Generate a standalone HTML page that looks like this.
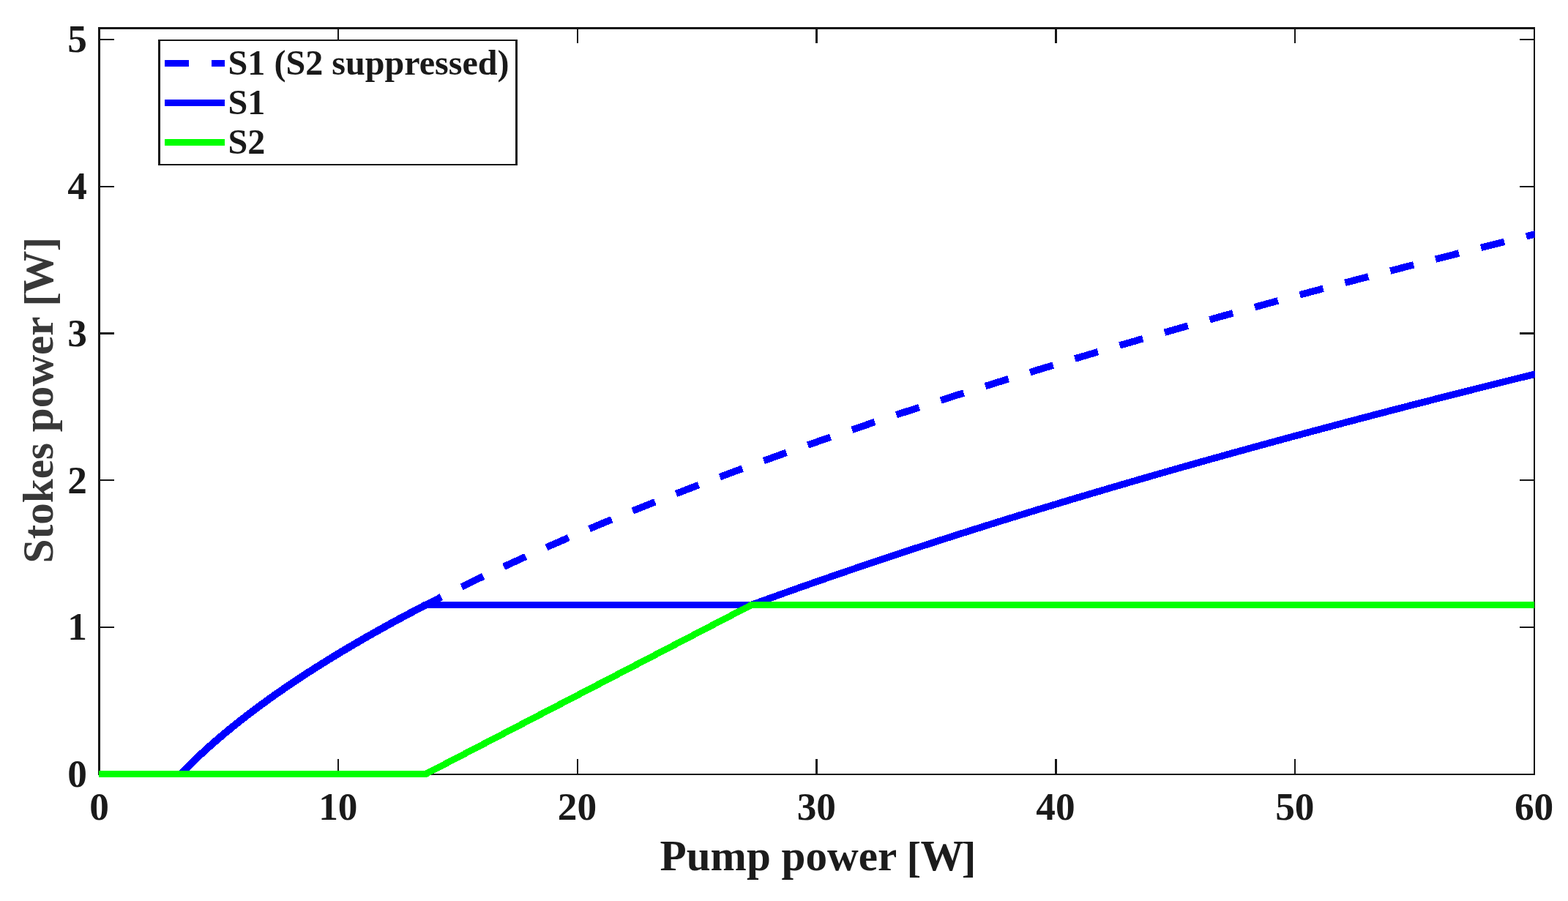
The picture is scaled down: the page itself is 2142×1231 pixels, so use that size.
<!DOCTYPE html>
<html><head><meta charset="utf-8"><title>Stokes power vs pump power</title>
<style>
html,body{margin:0;padding:0;background:#fff;}
body{width:2142px;height:1231px;overflow:hidden;}
svg{display:block;}
text{font-family:"Liberation Serif",serif;font-weight:bold;}
.tick{font-size:53.3px;fill:#1a1a1a;}
.lab{font-size:59.2px;fill:#1c1c1c;}
.ylab{font-size:59.2px;fill:#383838;}
.leg{font-size:48.1px;fill:#1a1a1a;}
</style></head><body>
<svg width="2142" height="1231" viewBox="0 0 2142 1231">
<rect width="2142" height="1231" fill="#fff"/>
<!-- axes box -->
<g fill="#161616" shape-rendering="crispEdges">
<rect x="134" y="37" width="3" height="1022"/>
<rect x="134" y="37" width="1963" height="3"/>
<rect x="2095" y="37" width="2" height="1022"/>
<rect x="134" y="1057" width="1963" height="2"/>
<!-- x ticks -->
<rect x="461" y="1037" width="2" height="20"/><rect x="461" y="40" width="2" height="19"/>
<rect x="788" y="1037" width="2" height="20"/><rect x="788" y="40" width="2" height="19"/>
<rect x="1114" y="1037" width="3" height="20"/><rect x="1114" y="40" width="3" height="19"/>
<rect x="1441" y="1037" width="3" height="20"/><rect x="1441" y="40" width="3" height="19"/>
<rect x="1768" y="1037" width="2" height="20"/><rect x="1768" y="40" width="2" height="19"/>
<!-- y ticks -->
<rect x="137" y="856" width="19" height="2"/><rect x="2076" y="856" width="19" height="2"/>
<rect x="137" y="655" width="19" height="2"/><rect x="2076" y="655" width="19" height="2"/>
<rect x="137" y="454" width="19" height="3"/><rect x="2076" y="454" width="19" height="3"/>
<rect x="137" y="254" width="19" height="2"/><rect x="2076" y="254" width="19" height="2"/>
<rect x="137" y="53" width="19" height="2"/><rect x="2076" y="53" width="19" height="2"/>
</g>
<!-- data curves -->
<clipPath id="plotclip"><rect x="134" y="30" width="1962.6" height="1040"/></clipPath>
<g fill="none" stroke-linejoin="round" stroke-linecap="butt" stroke-width="9" shape-rendering="crispEdges" clip-path="url(#plotclip)">
<path d="M573.62,830.64 L579.51,827.57 L585.39,824.53 L591.28,821.51 L597.17,818.50 L603.05,815.52 L608.94,812.55 L614.83,809.60 L620.71,806.67 L626.60,803.76 L632.49,800.87 L638.37,797.99 L644.26,795.13 L650.15,792.28 L656.03,789.46 L661.92,786.64 L667.81,783.85 L673.69,781.07 L679.58,778.30 L685.47,775.55 L691.35,772.81 L697.24,770.09 L703.13,767.38 L709.01,764.69 L714.90,762.01 L720.79,759.34 L726.67,756.69 L732.56,754.05 L738.45,751.43 L744.33,748.81 L750.22,746.21 L756.11,743.62 L761.99,741.04 L767.88,738.48 L773.77,735.93 L779.65,733.39 L785.54,730.86 L791.42,728.34 L797.31,725.83 L803.20,723.34 L809.08,720.85 L814.97,718.38 L820.86,715.91 L826.74,713.46 L832.63,711.02 L838.52,708.59 L844.40,706.17 L850.29,703.75 L856.18,701.35 L862.06,698.96 L867.95,696.58 L873.84,694.21 L879.72,691.84 L885.61,689.49 L891.50,687.14 L897.38,684.81 L903.27,682.48 L909.16,680.16 L915.04,677.85 L920.93,675.55 L926.82,673.26 L932.70,670.98 L938.59,668.70 L944.48,666.44 L950.36,664.18 L956.25,661.93 L962.14,659.69 L968.02,657.45 L973.91,655.23 L979.80,653.01 L985.68,650.80 L991.57,648.60 L997.46,646.40 L1003.34,644.21 L1009.23,642.03 L1015.12,639.86 L1021.00,637.69 L1026.89,635.53 L1032.78,633.38 L1038.66,631.24 L1044.55,629.10 L1050.44,626.97 L1056.32,624.85 L1062.21,622.73 L1068.10,620.62 L1073.98,618.51 L1079.87,616.42 L1085.75,614.33 L1091.64,612.24 L1097.53,610.16 L1103.41,608.09 L1109.30,606.03 L1115.19,603.97 L1121.07,601.92 L1126.96,599.87 L1132.85,597.83 L1138.73,595.79 L1144.62,593.77 L1150.51,591.74 L1156.39,589.73 L1162.28,587.72 L1168.17,585.71 L1174.05,583.71 L1179.94,581.72 L1185.83,579.73 L1191.71,577.75 L1197.60,575.77 L1203.49,573.80 L1209.37,571.83 L1215.26,569.87 L1221.15,567.91 L1227.03,565.96 L1232.92,564.02 L1238.81,562.08 L1244.69,560.14 L1250.58,558.21 L1256.47,556.29 L1262.35,554.37 L1268.24,552.46 L1274.13,550.55 L1280.01,548.64 L1285.90,546.74 L1291.79,544.85 L1297.67,542.96 L1303.56,541.07 L1309.45,539.19 L1315.33,537.32 L1321.22,535.44 L1327.11,533.58 L1332.99,531.72 L1338.88,529.86 L1344.77,528.01 L1350.65,526.16 L1356.54,524.31 L1362.43,522.48 L1368.31,520.64 L1374.20,518.81 L1380.08,516.98 L1385.97,515.16 L1391.86,513.34 L1397.74,511.53 L1403.63,509.72 L1409.52,507.92 L1415.40,506.12 L1421.29,504.32 L1427.18,502.53 L1433.06,500.74 L1438.95,498.95 L1444.84,497.17 L1450.72,495.40 L1456.61,493.62 L1462.50,491.86 L1468.38,490.09 L1474.27,488.33 L1480.16,486.57 L1486.04,484.82 L1491.93,483.07 L1497.82,481.33 L1503.70,479.59 L1509.59,477.85 L1515.48,476.11 L1521.36,474.38 L1527.25,472.66 L1533.14,470.93 L1539.02,469.21 L1544.91,467.50 L1550.80,465.79 L1556.68,464.08 L1562.57,462.37 L1568.46,460.67 L1574.34,458.97 L1580.23,457.28 L1586.12,455.59 L1592.00,453.90 L1597.89,452.21 L1603.78,450.53 L1609.66,448.86 L1615.55,447.18 L1621.44,445.51 L1627.32,443.84 L1633.21,442.18 L1639.10,440.52 L1644.98,438.86 L1650.87,437.20 L1656.76,435.55 L1662.64,433.90 L1668.53,432.26 L1674.41,430.62 L1680.30,428.98 L1686.19,427.34 L1692.07,425.71 L1697.96,424.08 L1703.85,422.45 L1709.73,420.83 L1715.62,419.21 L1721.51,417.59 L1727.39,415.98 L1733.28,414.37 L1739.17,412.76 L1745.05,411.15 L1750.94,409.55 L1756.83,407.95 L1762.71,406.35 L1768.60,404.76 L1774.49,403.17 L1780.37,401.58 L1786.26,400.00 L1792.15,398.41 L1798.03,396.83 L1803.92,395.26 L1809.81,393.68 L1815.69,392.11 L1821.58,390.54 L1827.47,388.98 L1833.35,387.41 L1839.24,385.85 L1845.13,384.30 L1851.01,382.74 L1856.90,381.19 L1862.79,379.64 L1868.67,378.09 L1874.56,376.55 L1880.45,375.01 L1886.33,373.47 L1892.22,371.93 L1898.11,370.40 L1903.99,368.86 L1909.88,367.34 L1915.77,365.81 L1921.65,364.29 L1927.54,362.76 L1933.43,361.25 L1939.31,359.73 L1945.20,358.22 L1951.09,356.70 L1956.97,355.19 L1962.86,353.69 L1968.74,352.18 L1974.63,350.68 L1980.52,349.18 L1986.40,347.69 L1992.29,346.19 L1998.18,344.70 L2004.06,343.21 L2009.95,341.72 L2015.84,340.24 L2021.72,338.75 L2027.61,337.27 L2033.50,335.79 L2039.38,334.32 L2045.27,332.85 L2051.16,331.37 L2057.04,329.90 L2062.93,328.44 L2068.82,326.97 L2074.70,325.51 L2080.59,324.05 L2086.48,322.59 L2092.36,321.14 L2098.25,319.68" stroke="#0000ff" stroke-width="9.5" stroke-dasharray="33.00 30.91"/>
<path d="M246.80,1057.50 L250.56,1053.64 L254.32,1049.84 L258.08,1046.10 L261.85,1042.42 L265.61,1038.79 L269.37,1035.21 L273.13,1031.69 L276.89,1028.21 L280.65,1024.78 L284.42,1021.39 L288.18,1018.04 L291.94,1014.74 L295.70,1011.47 L299.46,1008.24 L303.22,1005.05 L306.98,1001.90 L310.75,998.77 L314.51,995.69 L318.27,992.63 L322.03,989.61 L325.79,986.61 L329.55,983.65 L333.32,980.71 L337.08,977.80 L340.84,974.92 L344.60,972.07 L348.36,969.24 L352.12,966.43 L355.89,963.65 L359.65,960.90 L363.41,958.16 L367.17,955.45 L370.93,952.76 L374.69,950.09 L378.45,947.45 L382.22,944.82 L385.98,942.21 L389.74,939.63 L393.50,937.06 L397.26,934.51 L401.02,931.98 L404.79,929.46 L408.55,926.97 L412.31,924.49 L416.07,922.02 L419.83,919.58 L423.59,917.15 L427.35,914.73 L431.12,912.34 L434.88,909.95 L438.64,907.58 L442.40,905.23 L446.16,902.89 L449.92,900.57 L453.69,898.26 L457.45,895.96 L461.21,893.67 L464.97,891.40 L468.73,889.14 L472.49,886.90 L476.26,884.66 L480.02,882.44 L483.78,880.24 L487.54,878.04 L491.30,875.85 L495.06,873.68 L498.82,871.52 L502.59,869.37 L506.35,867.23 L510.11,865.10 L513.87,862.98 L517.63,860.87 L521.39,858.77 L525.16,856.68 L528.92,854.61 L532.68,852.54 L536.44,850.48 L540.20,848.43 L543.96,846.39 L547.72,844.36 L551.49,842.34 L555.25,840.33 L559.01,838.33 L562.77,836.34 L566.53,834.35 L570.29,832.38 L574.06,830.41 L577.82,828.45 L581.58,826.50 L1026.50,826.50 L1034.21,823.68 L1041.92,820.88 L1049.63,818.09 L1057.34,815.31 L1065.05,812.54 L1072.76,809.79 L1080.47,807.04 L1088.18,804.31 L1095.89,801.59 L1103.60,798.87 L1111.31,796.17 L1119.03,793.48 L1126.74,790.80 L1134.45,788.13 L1142.16,785.47 L1149.87,782.82 L1157.58,780.19 L1165.29,777.56 L1173.00,774.94 L1180.71,772.33 L1188.42,769.73 L1196.13,767.14 L1203.84,764.56 L1211.55,761.98 L1219.26,759.42 L1226.97,756.87 L1234.68,754.32 L1242.39,751.79 L1250.10,749.26 L1257.81,746.74 L1265.52,744.23 L1273.23,741.73 L1280.94,739.24 L1288.65,736.76 L1296.37,734.28 L1304.08,731.81 L1311.79,729.35 L1319.50,726.90 L1327.21,724.46 L1334.92,722.02 L1342.63,719.60 L1350.34,717.18 L1358.05,714.76 L1365.76,712.36 L1373.47,709.96 L1381.18,707.57 L1388.89,705.19 L1396.60,702.81 L1404.31,700.45 L1412.02,698.09 L1419.73,695.73 L1427.44,693.39 L1435.15,691.05 L1442.86,688.71 L1450.57,686.39 L1458.28,684.07 L1465.99,681.76 L1473.71,679.45 L1481.42,677.15 L1489.13,674.86 L1496.84,672.58 L1504.55,670.30 L1512.26,668.02 L1519.97,665.76 L1527.68,663.50 L1535.39,661.24 L1543.10,659.00 L1550.81,656.75 L1558.52,654.52 L1566.23,652.29 L1573.94,650.07 L1581.65,647.85 L1589.36,645.64 L1597.07,643.43 L1604.78,641.23 L1612.49,639.04 L1620.20,636.85 L1627.91,634.67 L1635.62,632.49 L1643.33,630.32 L1651.04,628.15 L1658.76,625.99 L1666.47,623.84 L1674.18,621.69 L1681.89,619.54 L1689.60,617.40 L1697.31,615.27 L1705.02,613.14 L1712.73,611.02 L1720.44,608.90 L1728.15,606.79 L1735.86,604.68 L1743.57,602.58 L1751.28,600.48 L1758.99,598.39 L1766.70,596.30 L1774.41,594.22 L1782.12,592.14 L1789.83,590.07 L1797.54,588.00 L1805.25,585.94 L1812.96,583.88 L1820.67,581.82 L1828.38,579.77 L1836.10,577.73 L1843.81,575.69 L1851.52,573.65 L1859.23,571.62 L1866.94,569.60 L1874.65,567.58 L1882.36,565.56 L1890.07,563.55 L1897.78,561.54 L1905.49,559.53 L1913.20,557.53 L1920.91,555.54 L1928.62,553.55 L1936.33,551.56 L1944.04,549.58 L1951.75,547.60 L1959.46,545.63 L1967.17,543.66 L1974.88,541.69 L1982.59,539.73 L1990.30,537.77 L1998.01,535.82 L2005.72,533.87 L2013.44,531.92 L2021.15,529.98 L2028.86,528.05 L2036.57,526.11 L2044.28,524.18 L2051.99,522.26 L2059.70,520.34 L2067.41,518.42 L2075.12,516.50 L2082.83,514.59 L2090.54,512.69 L2098.25,510.78" stroke="#0000ff"/>
<path d="M246.80,1057.50 L250.56,1053.64 L254.32,1049.84 L258.08,1046.10 L261.85,1042.42 L265.61,1038.79 L269.37,1035.21 L273.13,1031.69 L276.89,1028.21 L280.65,1024.78 L284.42,1021.39 L288.18,1018.04 L291.94,1014.74 L295.70,1011.47 L299.46,1008.24 L303.22,1005.05 L306.98,1001.90 L310.75,998.77 L314.51,995.69 L318.27,992.63 L322.03,989.61 L325.79,986.61 L329.55,983.65 L333.32,980.71 L337.08,977.80 L340.84,974.92 L344.60,972.07 L348.36,969.24 L352.12,966.43 L355.89,963.65 L359.65,960.90 L363.41,958.16 L367.17,955.45 L370.93,952.76 L374.69,950.09 L378.45,947.45 L382.22,944.82 L385.98,942.21 L389.74,939.63 L393.50,937.06 L397.26,934.51 L401.02,931.98 L404.79,929.46 L408.55,926.97 L412.31,924.49 L416.07,922.02 L419.83,919.58 L423.59,917.15 L427.35,914.73 L431.12,912.34 L434.88,909.95 L438.64,907.58 L442.40,905.23 L446.16,902.89 L449.92,900.57 L453.69,898.26 L457.45,895.96 L461.21,893.67 L464.97,891.40 L468.73,889.14 L472.49,886.90 L476.26,884.66 L480.02,882.44 L483.78,880.24 L487.54,878.04 L491.30,875.85 L495.06,873.68 L498.82,871.52 L502.59,869.37 L506.35,867.23 L510.11,865.10 L513.87,862.98 L517.63,860.87 L521.39,858.77 L525.16,856.68 L528.92,854.61 L532.68,852.54 L536.44,850.48 L540.20,848.43 L543.96,846.39 L547.72,844.36 L551.49,842.34 L555.25,840.33 L559.01,838.33 L562.77,836.34 L566.53,834.35 L570.29,832.38 L574.06,830.41 L577.82,828.45 L581.58,826.50" stroke="#0000ff" stroke-width="10"/>
<path d="M1026.50,826.50 L1034.21,823.68 L1041.92,820.88 L1049.63,818.09 L1057.34,815.31 L1065.05,812.54 L1072.76,809.79 L1080.47,807.04 L1088.18,804.31 L1095.89,801.59 L1103.60,798.87 L1111.31,796.17 L1119.03,793.48 L1126.74,790.80 L1134.45,788.13 L1142.16,785.47 L1149.87,782.82 L1157.58,780.19 L1165.29,777.56 L1173.00,774.94 L1180.71,772.33 L1188.42,769.73 L1196.13,767.14 L1203.84,764.56 L1211.55,761.98 L1219.26,759.42 L1226.97,756.87 L1234.68,754.32 L1242.39,751.79 L1250.10,749.26 L1257.81,746.74 L1265.52,744.23 L1273.23,741.73 L1280.94,739.24 L1288.65,736.76 L1296.37,734.28 L1304.08,731.81 L1311.79,729.35 L1319.50,726.90 L1327.21,724.46 L1334.92,722.02 L1342.63,719.60 L1350.34,717.18 L1358.05,714.76 L1365.76,712.36 L1373.47,709.96 L1381.18,707.57 L1388.89,705.19 L1396.60,702.81 L1404.31,700.45 L1412.02,698.09 L1419.73,695.73 L1427.44,693.39 L1435.15,691.05 L1442.86,688.71 L1450.57,686.39 L1458.28,684.07 L1465.99,681.76 L1473.71,679.45 L1481.42,677.15 L1489.13,674.86 L1496.84,672.58 L1504.55,670.30 L1512.26,668.02 L1519.97,665.76 L1527.68,663.50 L1535.39,661.24 L1543.10,659.00 L1550.81,656.75 L1558.52,654.52 L1566.23,652.29 L1573.94,650.07 L1581.65,647.85 L1589.36,645.64 L1597.07,643.43 L1604.78,641.23 L1612.49,639.04 L1620.20,636.85 L1627.91,634.67 L1635.62,632.49 L1643.33,630.32 L1651.04,628.15 L1658.76,625.99 L1666.47,623.84 L1674.18,621.69 L1681.89,619.54 L1689.60,617.40 L1697.31,615.27 L1705.02,613.14 L1712.73,611.02 L1720.44,608.90 L1728.15,606.79 L1735.86,604.68 L1743.57,602.58 L1751.28,600.48 L1758.99,598.39 L1766.70,596.30 L1774.41,594.22 L1782.12,592.14 L1789.83,590.07 L1797.54,588.00 L1805.25,585.94 L1812.96,583.88 L1820.67,581.82 L1828.38,579.77 L1836.10,577.73 L1843.81,575.69 L1851.52,573.65 L1859.23,571.62 L1866.94,569.60 L1874.65,567.58 L1882.36,565.56 L1890.07,563.55 L1897.78,561.54 L1905.49,559.53 L1913.20,557.53 L1920.91,555.54 L1928.62,553.55 L1936.33,551.56 L1944.04,549.58 L1951.75,547.60 L1959.46,545.63 L1967.17,543.66 L1974.88,541.69 L1982.59,539.73 L1990.30,537.77 L1998.01,535.82 L2005.72,533.87 L2013.44,531.92 L2021.15,529.98 L2028.86,528.05 L2036.57,526.11 L2044.28,524.18 L2051.99,522.26 L2059.70,520.34 L2067.41,518.42 L2075.12,516.50 L2082.83,514.59 L2090.54,512.69 L2098.25,510.78" stroke="#0000ff" stroke-width="9.4"/>
<path d="M135.25,1057.50 L581.58,1057.50 L1026.50,826.50 L2096.00,826.50" stroke="#00ff00"/>
</g>
<g class="tick" text-anchor="middle">
<text x="135.5" y="1120.2">0</text>
<text x="461.8" y="1120.2">10</text>
<text x="788.5" y="1120.2">20</text>
<text x="1115.3" y="1120.2">30</text>
<text x="1442.0" y="1120.2">40</text>
<text x="1768.8" y="1120.2">50</text>
<text x="2095.6" y="1120.2">60</text>
</g>
<g class="tick" text-anchor="end">
<text x="119" y="1075.1">0</text>
<text x="119" y="874.4">1</text>
<text x="119" y="673.6">2</text>
<text x="119" y="472.9">3</text>
<text x="119" y="272.1">4</text>
<text x="119" y="71.3">5</text>
</g>
<text class="lab" x="901.5" y="1189">Pump power <tspan dx="-0.6" dy="2.4">[</tspan><tspan dx="-0.85" dy="-2.4">W</tspan><tspan dx="-2.95" dy="2.4">]</tspan></text>
<text class="ylab" transform="translate(72.0,769.4) rotate(-90)">Stokes power <tspan dx="0" dy="1.6">[</tspan><tspan dx="-2.9" dy="-1.6">W</tspan><tspan dx="-0.9" dy="1.6">]</tspan></text>
<!-- legend -->
<g shape-rendering="crispEdges"><rect x="216" y="54" width="491" height="172" fill="#161616"/><rect x="219" y="56" width="485" height="168" fill="#fff"/></g>
<g fill="none" stroke-width="9">
<path d="M225,86.5 H307" stroke="#0000ff" stroke-dasharray="33 31"/>
<path d="M225,140.5 H307" stroke="#0000ff"/>
<path d="M225,194.5 H307" stroke="#00ff00"/>
</g>
<g class="leg">
<text x="311.6" y="101.7">S1 (S2 suppressed)</text>
<text x="311.6" y="155.7">S1</text>
<text x="311.6" y="209.7">S2</text>
</g>
</svg>
</body></html>
